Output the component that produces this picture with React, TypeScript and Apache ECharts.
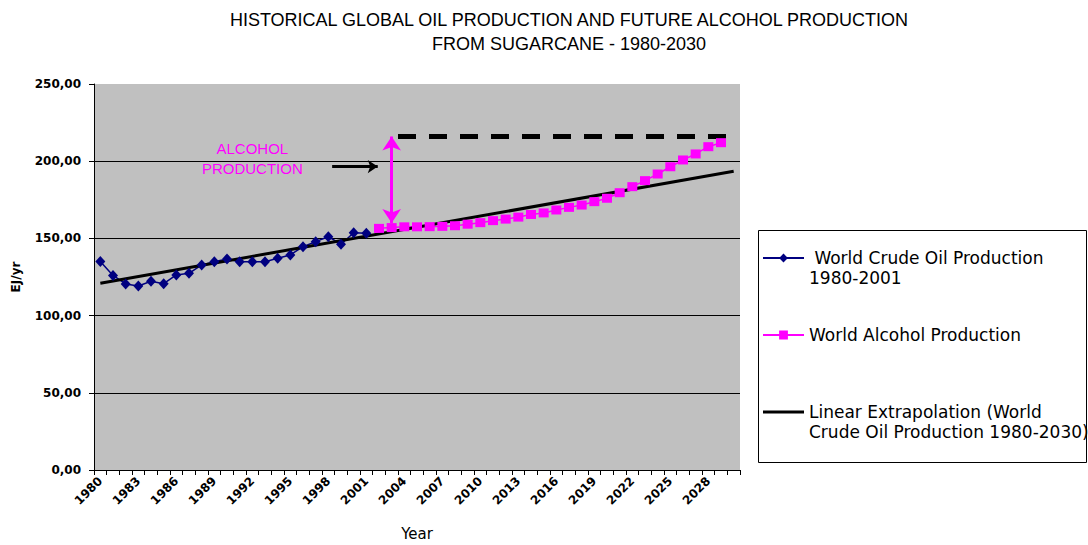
import React, { useEffect, useRef } from "react";
import * as echarts from "echarts";

const YEARS: string[] = [
  "1980", "1981", "1982", "1983", "1984", "1985", "1986", "1987", "1988", "1989",
  "1990", "1991", "1992", "1993", "1994", "1995", "1996", "1997", "1998", "1999",
  "2000", "2001", "2002", "2003", "2004", "2005", "2006", "2007", "2008", "2009",
  "2010", "2011", "2012", "2013", "2014", "2015", "2016", "2017", "2018", "2019",
  "2020", "2021", "2022", "2023", "2024", "2025", "2026", "2027", "2028", "2029",
  "2030",
];

// World crude oil production 1980-2001 (EJ/yr)
const OIL_START = "1980";
const OIL: number[] = [
  135.0, 126.0, 120.5, 119.2, 122.2, 120.7, 126.3, 127.4, 132.8, 134.9,
  136.7, 134.9, 134.9, 134.9, 137.1, 139.3, 144.6, 147.9, 151.1, 146.2,
  153.7, 153.3,
];

// World alcohol production 2002-2029 (EJ/yr)
const ALCOHOL_START = "2002";
const ALCOHOL: number[] = [
  156.5, 157.0, 157.5, 157.5, 157.6, 157.8, 158.2, 159.2, 160.2, 161.5,
  162.5, 163.8, 165.5, 166.5, 168.4, 170.1, 171.6, 173.8, 176.0, 179.6,
  183.5, 187.4, 191.7, 196.4, 200.8, 204.7, 209.4, 212.0,
];

// Linear extrapolation end points (1980 and 2030)
const TREND_YEARS: string[] = ["1980", "2030"];
const TREND: number[] = [121.0, 193.5];

// Annotation: dashed ceiling, vertical double arrow and pointer arrow
const CEILING_X: number[] = [2003.5, 2029.5];
const CEILING_Y = 216;
const DOUBLE_ARROW_X = 2003;
const DOUBLE_ARROW_Y: number[] = [216, 160];
const POINTER_X: number[] = [1998.3, 2001.9];
const POINTER_Y = 196.5;
const NOTE_X = 1992;
const NOTE_Y = 202;
const NOTE_TEXT = "ALCOHOL\nPRODUCTION";

const Y_TICKS: number[] = [0, 50, 100, 150, 200, 250];

const SERIES_NAMES = {
  oil: "World Crude Oil Production 1980-2001",
  alcohol: "World Alcohol Production",
  trend: "Linear Extrapolation (World Crude Oil Production 1980-2030)",
};
const LEGEND_TEXT: Record<string, string> = {
  [SERIES_NAMES.oil]: "\n World Crude Oil Production\n1980-2001",
  [SERIES_NAMES.alcohol]: "World Alcohol Production",
  [SERIES_NAMES.trend]: "\nLinear Extrapolation (World\nCrude Oil Production 1980-2030)",
};

function placeSeries(values: number[], start: string): (number | null)[] {
  const off = YEARS.indexOf(start);
  return YEARS.map((_, i) => {
    const k = i - off;
    return k >= 0 && k < values.length ? values[k] : null;
  });
}

function placePoints(years: string[], values: number[]): (number | null)[] {
  return YEARS.map((y) => {
    const k = years.indexOf(y);
    return k >= 0 ? values[k] : null;
  });
}

export default function App() {
  const ref = useRef<HTMLDivElement>(null);

  useEffect(() => {
    if (!ref.current) return;
    const chart = echarts.init(ref.current, undefined, { renderer: "svg" });
    const option: any = {
      animation: false,
      backgroundColor: "#ffffff",
      title: {
        text: "HISTORICAL GLOBAL OIL PRODUCTION AND FUTURE ALCOHOL PRODUCTION\nFROM SUGARCANE - 1980-2030",
        left: 569,
        top: 8,
        padding: 0,
        textAlign: "center",
        textStyle: {
          fontFamily: "Liberation Sans",
          fontSize: 18,
          fontWeight: "normal",
          color: "#000",
          lineHeight: 24,
        },
      },
      graphic: [
        {
          type: "rect",
          z: 0,
          shape: { x: 758.5, y: 230.5, width: 328, height: 232 },
          style: { fill: "#ffffff", stroke: "#000000", lineWidth: 1 },
        },
      ],
      legend: {
        orient: "vertical",
        left: 762,
        top: 228,
        padding: 0,
        z: 5,
        itemWidth: 41,
        itemHeight: 11,
        itemGap: 37,
        selectedMode: false,
        data: [
          SERIES_NAMES.oil,
          SERIES_NAMES.alcohol,
          { name: SERIES_NAMES.trend, icon: "path://M0,0H41V3H0Z" },
        ],
        formatter: (name: string) => LEGEND_TEXT[name] || name,
        textStyle: {
          fontFamily: "DejaVu Sans",
          fontSize: 17,
          color: "#000",
          lineHeight: 20,
        },
      },
      grid: {
        left: 94,
        right: 348,
        top: 84,
        bottom: 75,
        outerBoundsMode: "none",
        containLabel: false,
        show: true,
        backgroundColor: "#c0c0c0",
        borderWidth: 0,
      },
      xAxis: [
        {
          type: "category",
          data: YEARS,
          boundaryGap: true,
          name: "Year",
          nameLocation: "middle",
          nameGap: 56,
          nameTextStyle: { fontFamily: "DejaVu Sans", fontSize: 15, color: "#000" },
          axisLine: { show: true, lineStyle: { color: "#000", width: 1 } },
          axisTick: { show: true, interval: 0, length: 5, lineStyle: { color: "#000" } },
          axisLabel: {
            interval: 2,
            rotate: 45,
            margin: 9,
            color: "#000",
            fontFamily: "DejaVu Sans",
            fontWeight: "bold",
            fontSize: 12,
          },
          splitLine: { show: false },
        },
        {
          type: "value",
          show: false,
          min: 1979.5,
          max: 2030.5,
          gridIndex: 0,
        },
      ],
      yAxis: {
        type: "value",
        min: Y_TICKS[0],
        max: Y_TICKS[Y_TICKS.length - 1],
        interval: Y_TICKS[1] - Y_TICKS[0],
        name: "EJ/yr",
        nameLocation: "middle",
        nameGap: 72,
        nameTextStyle: {
          fontFamily: "DejaVu Sans",
          fontSize: 12,
          fontWeight: "bold",
          color: "#000",
        },
        axisLine: { show: true, lineStyle: { color: "#000", width: 1 } },
        axisTick: { show: true, length: 5, lineStyle: { color: "#000" } },
        axisLabel: {
          margin: 13,
          color: "#000",
          fontFamily: "DejaVu Sans",
          fontWeight: "bold",
          fontSize: 12,
          formatter: (v: number) => v.toFixed(2).replace(".", ","),
        },
        splitLine: { show: true, showMaxLine: false, lineStyle: { color: "#000", width: 1 } },
      },
      series: [
        {
          name: SERIES_NAMES.oil,
          type: "line",
          data: placeSeries(OIL, OIL_START),
          symbol: "diamond",
          symbolSize: [10, 11],
          showAllSymbol: true,
          lineStyle: { color: "#000080", width: 1.5 },
          itemStyle: { color: "#000080" },
        },
        {
          name: SERIES_NAMES.alcohol,
          type: "line",
          data: placeSeries(ALCOHOL, ALCOHOL_START),
          symbol: "rect",
          symbolSize: [10, 9],
          showAllSymbol: true,
          lineStyle: { color: "#ff00ff", width: 1.5 },
          itemStyle: { color: "#ff00ff" },
        },
        {
          name: SERIES_NAMES.trend,
          type: "line",
          data: placePoints(TREND_YEARS, TREND),
          connectNulls: true,
          symbol: "none",
          lineStyle: { color: "#000000", width: 3 },
          itemStyle: { color: "#000000" },
        },
        {
          name: "Ceiling",
          type: "line",
          xAxisIndex: 1,
          silent: true,
          data: CEILING_X.map((x) => [x, CEILING_Y]),
          symbol: "none",
          lineStyle: { color: "#000000", width: 5, type: [18, 13] },
          markLine: {
            silent: true,
            label: { show: false },
            data: [
              [
                {
                  coord: [DOUBLE_ARROW_X, DOUBLE_ARROW_Y[0]],
                  symbol: "arrow",
                  symbolSize: 14,
                  lineStyle: { color: "#ff00ff", width: 3, type: "solid" },
                },
                { coord: [DOUBLE_ARROW_X, DOUBLE_ARROW_Y[1]], symbol: "arrow", symbolSize: 14 },
              ],
              [
                {
                  coord: [POINTER_X[0], POINTER_Y],
                  symbol: "none",
                  lineStyle: { color: "#000000", width: 3, type: "solid" },
                },
                { coord: [POINTER_X[1], POINTER_Y], symbol: "arrow", symbolSize: 10 },
              ],
            ],
          },
          markPoint: {
            silent: true,
            symbol: "rect",
            symbolSize: 0,
            data: [
              {
                coord: [NOTE_X, NOTE_Y],
                label: {
                  show: true,
                  position: "inside",
                  formatter: NOTE_TEXT,
                  color: "#ff00ff",
                  fontFamily: "Liberation Sans",
                  fontSize: 15,
                  lineHeight: 20,
                },
              },
            ],
          },
        },
      ],
    };
    chart.setOption(option);
    return () => chart.dispose();
  }, []);

  return (
    <div
      ref={ref}
      style={{ position: "fixed", left: 0, top: 0, width: 1088, height: 545, background: "#fff" }}
    />
  );
}
